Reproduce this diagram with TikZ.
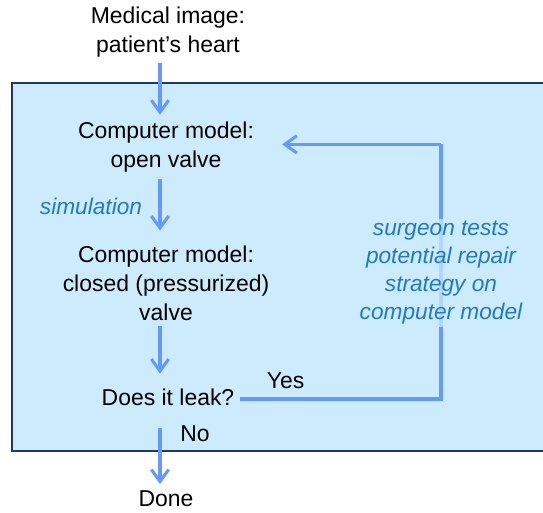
\documentclass[tikz,border=0pt]{standalone}
\usepackage{fontspec}
\setmainfont{Liberation Sans}
\usetikzlibrary{arrows.meta}
\definecolor{boxfill}{RGB}{204,235,253}
\definecolor{boxline}{RGB}{31,56,100}
\definecolor{arrowc}{RGB}{102,153,255}
\definecolor{labelc}{RGB}{31,123,200}
\tikzset{
  txt/.style={align=center,font=\fontsize{17.2}{21.8}\selectfont,inner sep=0pt},
  lbl/.style={align=center,font=\fontsize{17}{21}\selectfont\itshape,text=labelc,inner sep=2pt},
  arr/.style={draw=arrowc,line width=2.3pt,-{Straight Barb[length=9pt,width=13pt,line width=2.3pt]}},
  ln/.style={draw=arrowc,line width=2.3pt}
}
\begin{document}
\begin{tikzpicture}[x=0.75pt,y=-0.75pt]
\useasboundingbox (0,0) rectangle (543,513);
\clip (0,0) rectangle (543,513);
\fill[boxfill,draw=boxline,line width=0.9pt] (12,83) rectangle (560,451);
\coordinate (colx) at (160,0);
\coordinate (rx) at (441,0);
\node[txt] (med) at (168,32) {Medical image:\\patient’s heart};
\node[txt] (open) at (166,147) {Computer model:\\open valve};
\node[txt] (closed) at (166,283) {Computer model:\\closed (pressurized)\\valve};
\node[txt] (leak) at (168,397) {Does it leak?};
\node[txt] (done) at (166,499) {Done};
\node[lbl] (sim) at (91,206) {simulation};
\draw[arr,shorten <=4pt,shorten >=5pt] (med.south -| colx) -- (open.north -| colx);
\draw[arr,shorten <=5pt,shorten >=11pt] (open.south -| colx) -- (closed.north -| colx);
\draw[arr,shorten <=4pt,shorten >=11pt] (closed.south -| colx) -- (leak.north -| colx);
\draw[arr,shorten <=17pt,shorten >=5pt] (leak.south -| colx) -- (done.north -| colx);
\node[txt,anchor=west] (no) at (180,434) {No};
\coordinate (c1) at ([yshift=-1.5pt]leak.east -| rx);
\coordinate (c2) at ([yshift=2pt]open.east -| rx);
\draw[ln] ([xshift=4pt,yshift=-1.5pt]leak.east) -- (c1) -- (c2);
\draw[arr,shorten >=21pt] (c2) -- ([yshift=2pt]open.east);
\node[txt,anchor=south west] (yes) at ([xshift=24pt,yshift=6pt]leak.east) {Yes};
\node[lbl,fill=boxfill,fill opacity=0.75,text opacity=1] (surg) at (441,273) {surgeon tests\\potential repair\\strategy on\\computer model};
\end{tikzpicture}
\end{document}
